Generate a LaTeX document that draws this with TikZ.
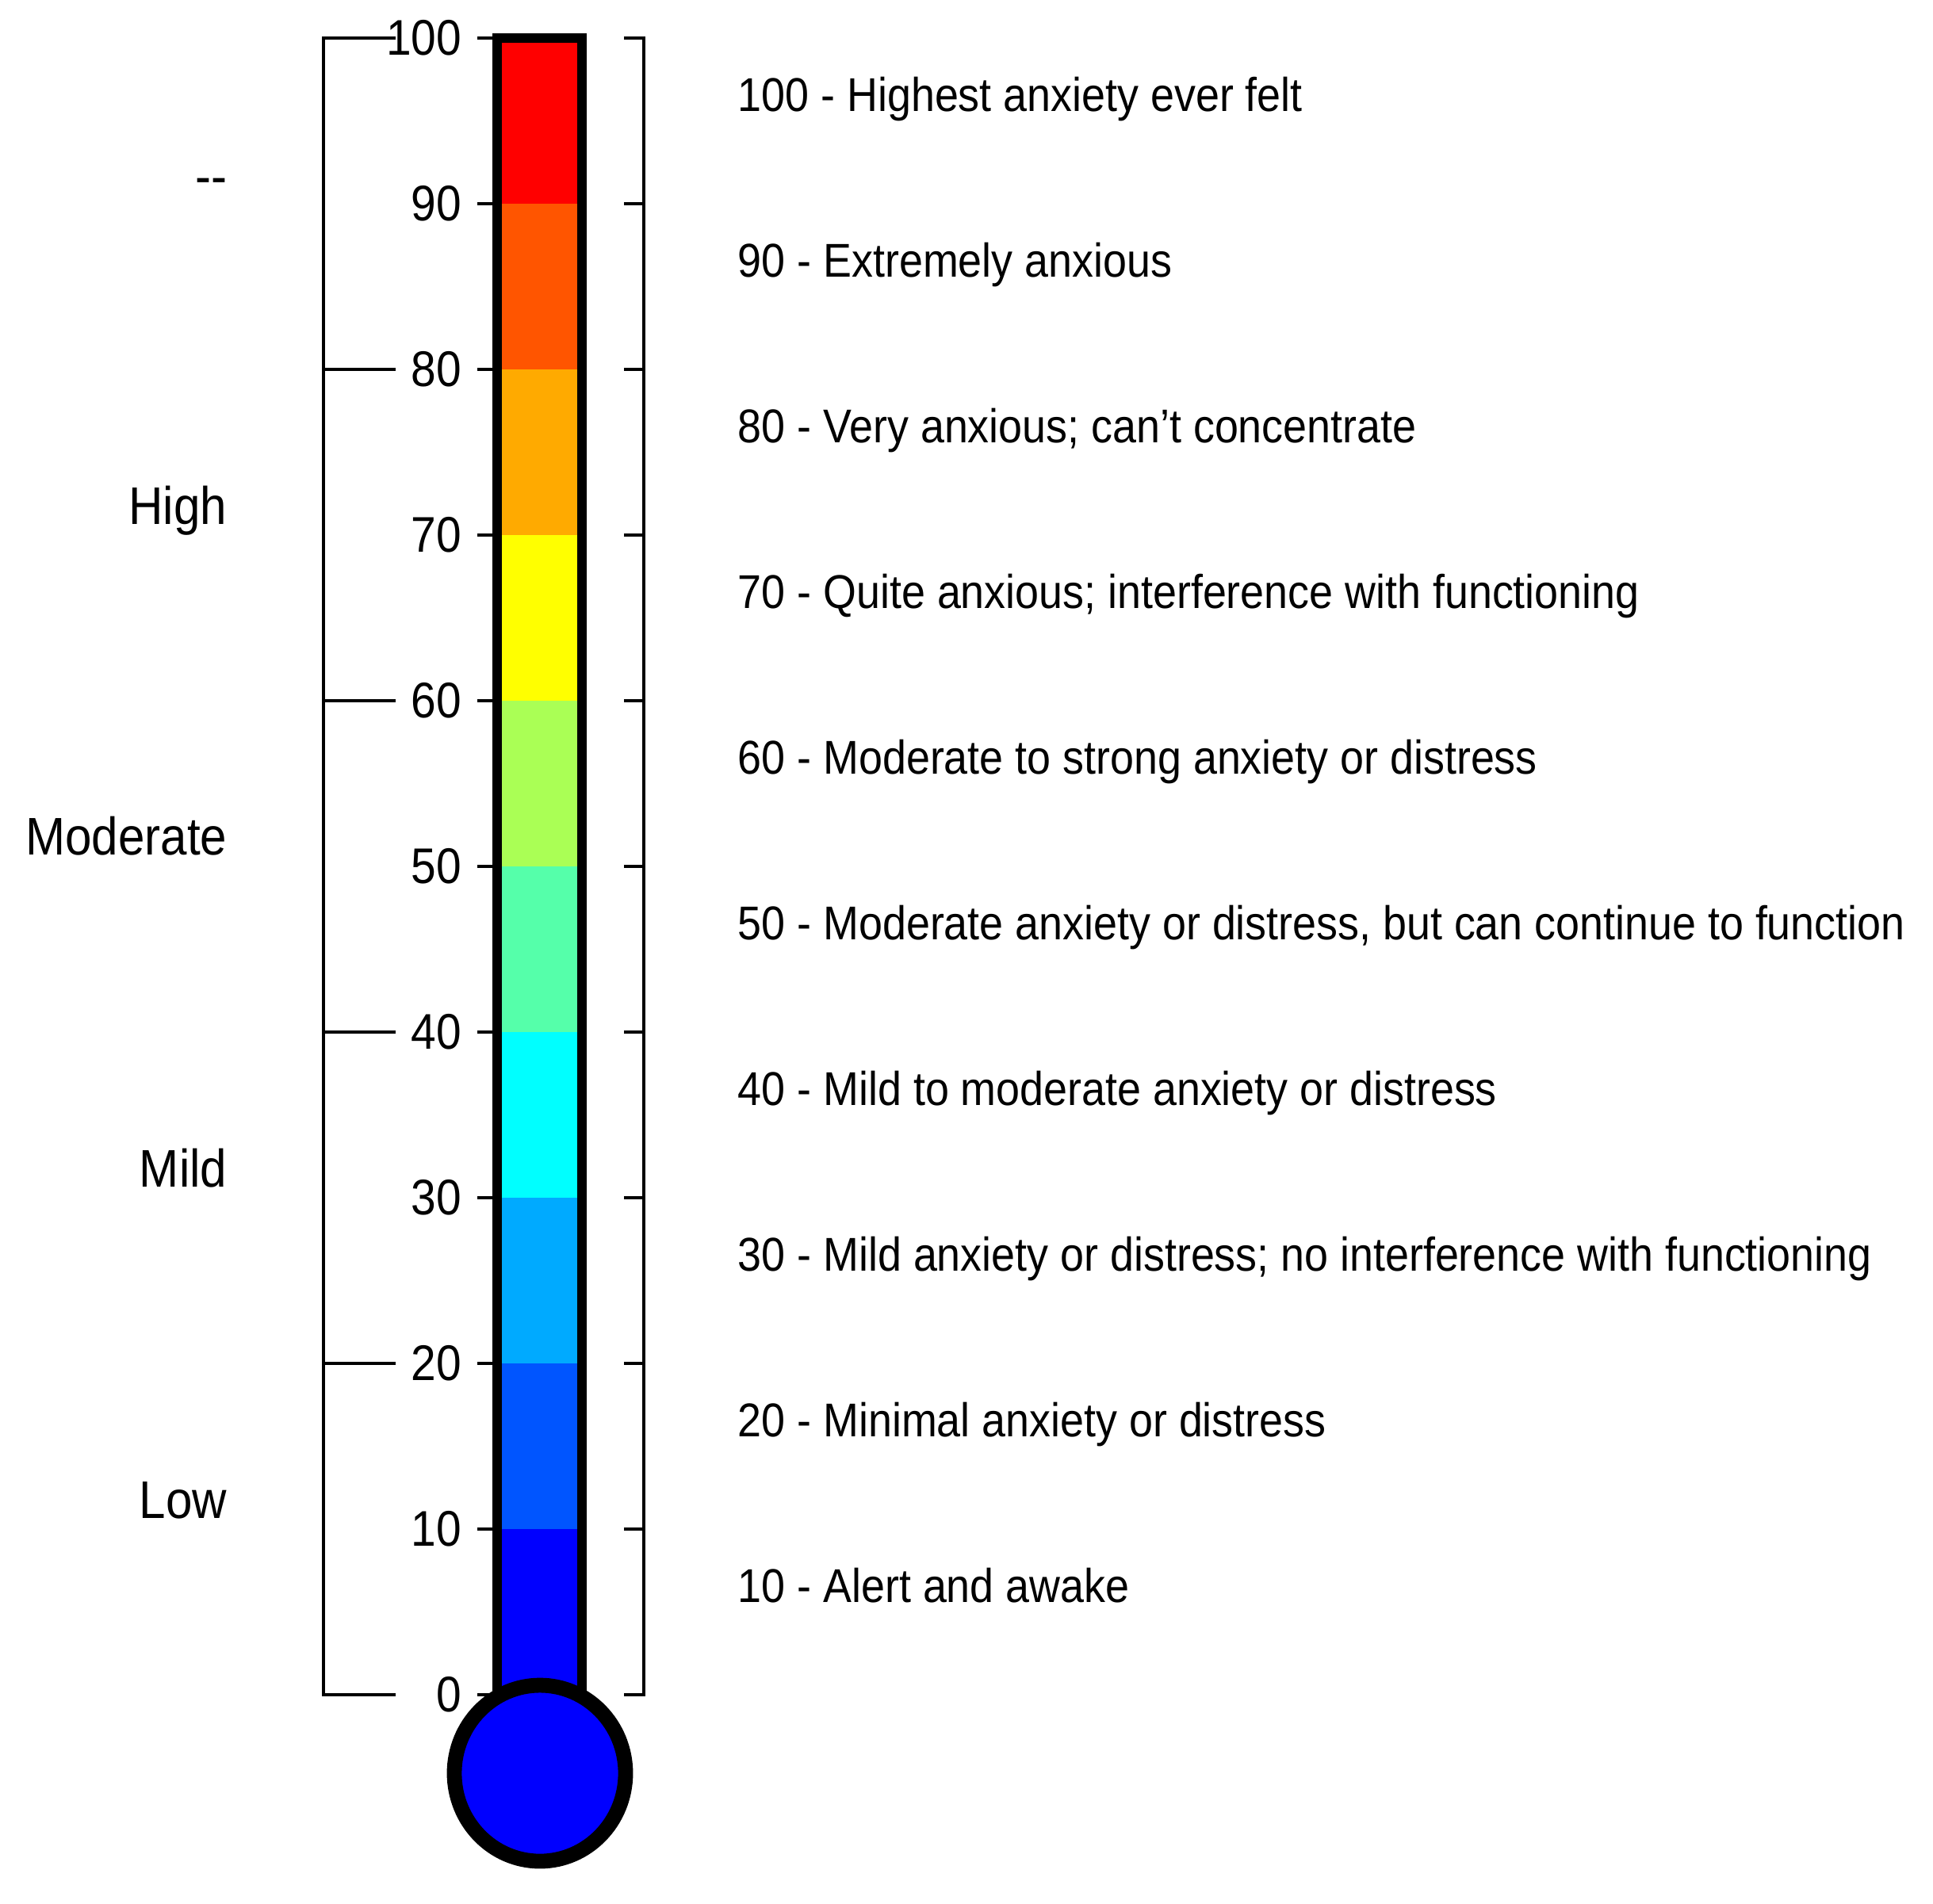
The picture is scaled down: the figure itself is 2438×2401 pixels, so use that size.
\documentclass[tikz,border=0pt]{standalone}
\usepackage{fontspec}
\setmainfont[FakeStretch=0.9]{Liberation Sans}
\definecolor{cA}{HTML}{FF0000}
\definecolor{cB}{HTML}{FF5500}
\definecolor{cC}{HTML}{FFAA00}
\definecolor{cD}{HTML}{FFFF00}
\definecolor{cE}{HTML}{AAFF55}
\definecolor{cF}{HTML}{55FFAA}
\definecolor{cG}{HTML}{00FFFF}
\definecolor{cH}{HTML}{00AAFF}
\definecolor{cI}{HTML}{0055FF}
\definecolor{cJ}{HTML}{0000FF}
\begin{document}
\begin{tikzpicture}[x=0.25pt,y=-0.25pt,
  thinline/.style={line width=0.8pt, line cap=rect},
  ticklab/.style={font=\fontsize{15.8pt}{18pt}\selectfont, anchor=east, inner sep=0pt},
  levellab/.style={font=\fontsize{16.7pt}{20pt}\selectfont, anchor=base east, inner sep=0pt},
  desclab/.style={font=\fontsize{14.95pt}{18pt}\selectfont, anchor=base west, inner sep=0pt}]
\useasboundingbox (0,0) rectangle (2438,2401);
% colour bands
\foreach \v/\c in {100/cA,90/cB,80/cC,70/cD,60/cE,50/cF,40/cG,30/cH,20/cI,10/cJ}{
  \pgfmathsetmacro\ya{48+(100-\v)*20.9}
  \pgfmathsetmacro\yb{48+(110-\v)*20.9}
  \fill[\c] (626,\ya) rectangle (734,\yb);
}
\fill[cJ] (626,2130) rectangle (734,2195);
% tube outline
\draw[line width=3pt] (627,2195) -- (627,48) -- (734,48) -- (734,2195);
% left bracket
\draw[thinline] (408,48) -- (408,2138);
\foreach \v in {100,80,60,40,20,0}{
  \pgfmathsetmacro\yy{48+(100-\v)*20.9}
  \draw[thinline] (408,\yy) -- (497,\yy);
}
% small ticks and right bracket
\draw[thinline] (812,48) -- (812,2138);
\foreach \v in {100,90,...,0}{
  \pgfmathsetmacro\yy{48+(100-\v)*20.9}
  \draw[thinline] (604,\yy) -- (621,\yy);
  \draw[thinline] (789,\yy) -- (812,\yy);
  \node[ticklab] (t\v) at (583,\yy) {\v};
}
% bulb
\draw[line width=4.7pt, fill=cJ] (681,2237) ellipse [x radius=27pt, y radius=27.75pt];
% level labels
\node[levellab] (lvTop) at (287,245) {-{}-};
\node[levellab] (lvHigh) at (287,661) {High};
\node[levellab] (lvMod) at (287,1078) {Moderate};
\node[levellab] (lvMild) at (287,1497) {Mild};
\node[levellab] (lvLow) at (287,1915) {Low};
% descriptions
\node[desclab] (d100) at (930,140) {100 - Highest anxiety ever felt};
\node[desclab] (d90) at (930,349) {90 - Extremely anxious};
\node[desclab] (d80) at (930,558) {80 - Very anxious; can’t concentrate};
\node[desclab] (d70) at (930,767) {70 - Quite anxious; interference with functioning};
\node[desclab] (d60) at (930,976) {60 - Moderate to strong anxiety or distress};
\node[desclab] (d50) at (930,1185) {50 - Moderate anxiety or distress, but can continue to function};
\node[desclab] (d40) at (930,1394) {40 - Mild to moderate anxiety or distress};
\node[desclab] (d30) at (930,1603) {30 - Mild anxiety or distress; no interference with functioning};
\node[desclab] (d20) at (930,1812) {20 - Minimal anxiety or distress};
\node[desclab] (d10) at (930,2021) {10 - Alert and awake};
\end{tikzpicture}
\end{document}
